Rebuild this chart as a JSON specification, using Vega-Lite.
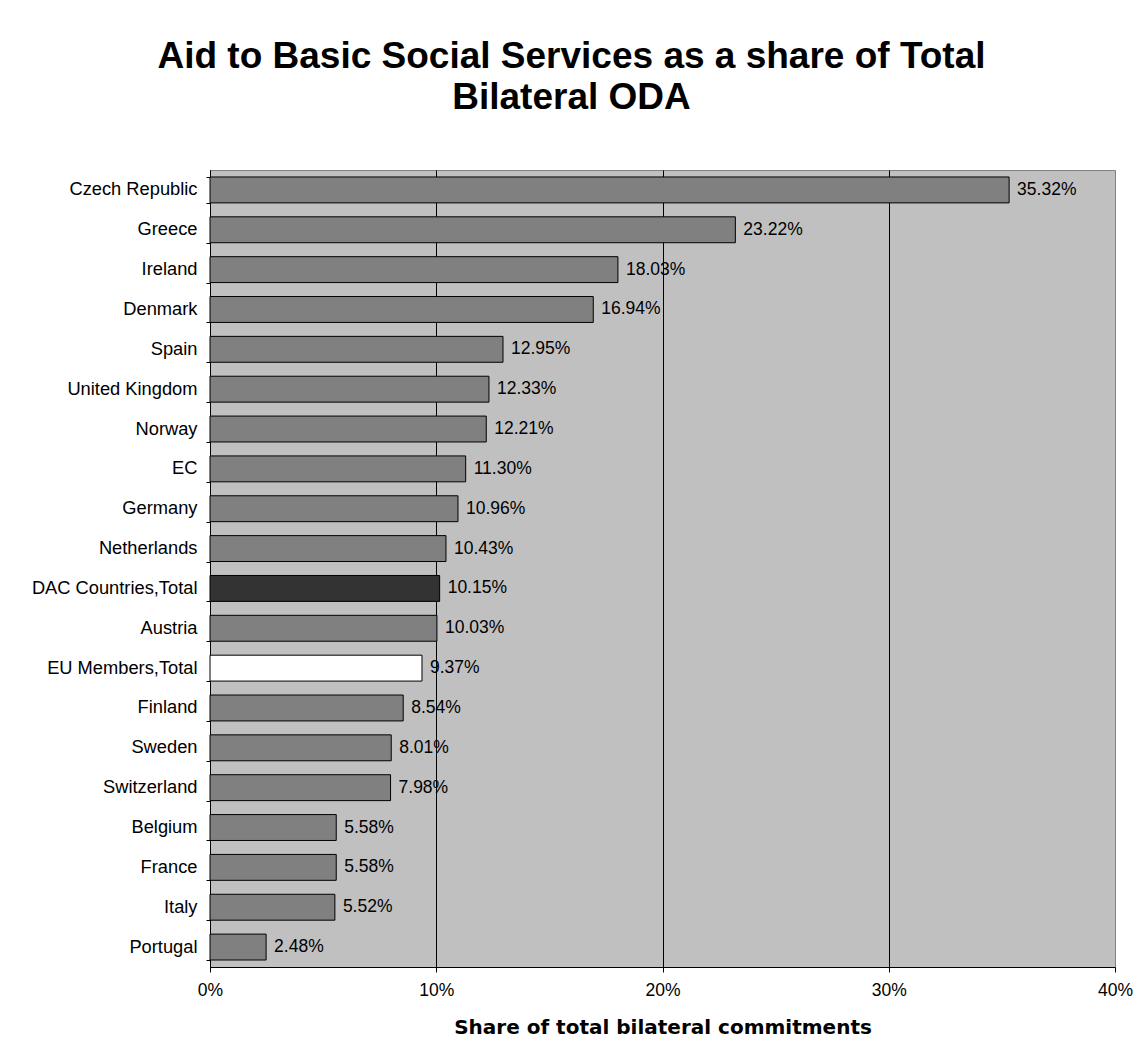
{
  "$schema": "https://vega.github.io/schema/vega-lite/v6.json",
  "width": 905,
  "height": 797,
  "autosize": {"type": "none"},
  "padding": {"left": 210, "top": 170, "right": 29, "bottom": 93},
  "background": "white",
  "title": {
    "text": ["Aid to Basic Social Services as a share of Total", "Bilateral ODA"],
    "font": "Liberation Sans",
    "fontSize": 37,
    "fontWeight": "bold",
    "color": "black",
    "lineHeight": 41.4,
    "anchor": "middle",
    "frame": "group",
    "dx": -91,
    "offset": 43
  },
  "config": {
    "view": {"stroke": "#808080", "fill": "#c0c0c0", "strokeWidth": 1},
    "font": "Liberation Sans",
    "axisX": {
      "grid": true,
      "gridColor": {"condition": {"test": "datum.value >= 0.4", "value": "#808080"}, "value": "black"},
      "gridWidth": 1,
      "gridOpacity": 1,
      "tickColor": "black",
      "tickSize": 5,
      "domainColor": "black",
      "labelFont": "Liberation Sans",
      "labelFontSize": 17.5,
      "labelColor": "black",
      "labelPadding": 9,
      "labelFlush": false,
      "titleFont": "DejaVu Sans",
      "titleFontSize": 20,
      "titleFontWeight": "bold",
      "titleColor": "black",
      "titlePadding": 19
    },
    "axisY": {
      "grid": false,
      "tickBand": "extent",
      "tickOffset": -6.97,
      "tickColor": "black",
      "tickSize": 4,
      "domainColor": "black",
      "labelFont": "Liberation Sans",
      "labelFontSize": 18.3,
      "labelColor": "black",
      "labelPadding": 9
    }
  },
  "data": {
    "values": [
      {"country": "Czech Republic", "share": 0.3532, "group": "country"},
      {"country": "Greece", "share": 0.2322, "group": "country"},
      {"country": "Ireland", "share": 0.1803, "group": "country"},
      {"country": "Denmark", "share": 0.1694, "group": "country"},
      {"country": "Spain", "share": 0.1295, "group": "country"},
      {"country": "United Kingdom", "share": 0.1233, "group": "country"},
      {"country": "Norway", "share": 0.1221, "group": "country"},
      {"country": "EC", "share": 0.1130, "group": "country"},
      {"country": "Germany", "share": 0.1096, "group": "country"},
      {"country": "Netherlands", "share": 0.1043, "group": "country"},
      {"country": "DAC Countries,Total", "share": 0.1015, "group": "DAC"},
      {"country": "Austria", "share": 0.1003, "group": "country"},
      {"country": "EU Members,Total", "share": 0.0937, "group": "EU"},
      {"country": "Finland", "share": 0.0854, "group": "country"},
      {"country": "Sweden", "share": 0.0801, "group": "country"},
      {"country": "Switzerland", "share": 0.0798, "group": "country"},
      {"country": "Belgium", "share": 0.0558, "group": "country"},
      {"country": "France", "share": 0.0558, "group": "country"},
      {"country": "Italy", "share": 0.0552, "group": "country"},
      {"country": "Portugal", "share": 0.0248, "group": "country"}
    ]
  },
  "encoding": {
    "y": {
      "field": "country",
      "type": "nominal",
      "sort": null,
      "scale": {"paddingInner": 0.35, "paddingOuter": 0.175},
      "axis": {"title": null}
    },
    "x": {
      "field": "share",
      "type": "quantitative",
      "scale": {"domain": [0, 0.4], "nice": false, "zero": true},
      "axis": {"values": [0, 0.1, 0.2, 0.3, 0.4], "format": ".0%", "title": "Share of total bilateral commitments"}
    }
  },
  "layer": [
    {
      "mark": {"type": "bar", "stroke": "black", "strokeWidth": 1},
      "encoding": {
        "color": {
          "field": "group",
          "type": "nominal",
          "scale": {"domain": ["country", "DAC", "EU"], "range": ["#808080", "#333333", "#ffffff"]},
          "legend": null
        }
      }
    },
    {
      "mark": {"type": "text", "align": "left", "baseline": "middle", "dx": 8, "fontSize": 17.5, "font": "Liberation Sans", "color": "black"},
      "encoding": {
        "text": {"field": "share", "type": "quantitative", "format": ".2%"}
      }
    }
  ]
}
